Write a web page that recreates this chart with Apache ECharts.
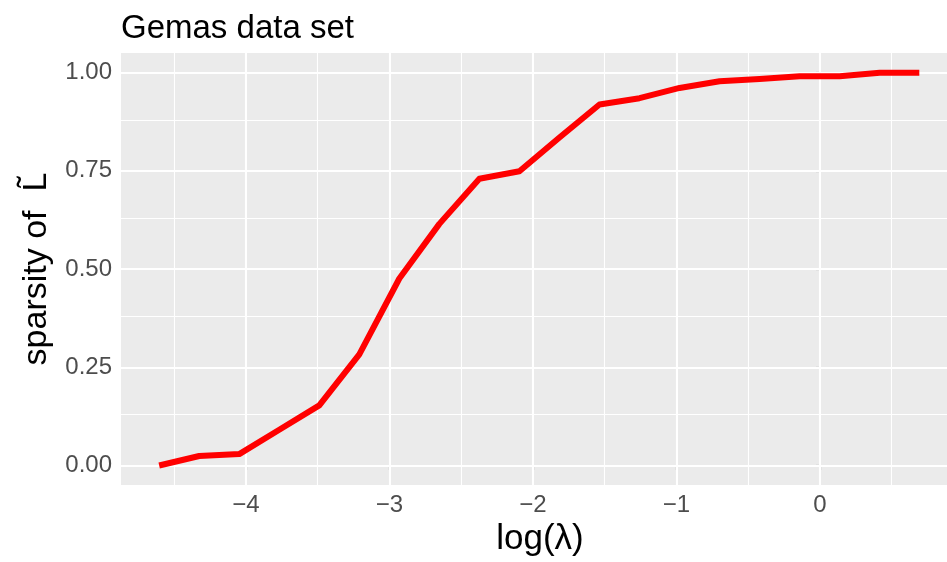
<!DOCTYPE html>
<html>
<head>
<meta charset="utf-8">
<script src="https://cdn.jsdelivr.net/npm/echarts@6/dist/echarts.min.js"></script>
<style>
  html, body { margin: 0; padding: 0; background: #ffffff; overflow: hidden; width: 100%; height: 100%; }
  #chart { width: 100vw; height: 100vh; }
</style>
</head>
<body>
<div id="chart"></div>
<script>
// log(lambda) grid of the regularisation path
const logLambda = [-4.605, -4.326, -4.047, -3.768, -3.489, -3.210, -2.931, -2.652, -2.373, -2.094,
                   -1.815, -1.536, -1.257, -0.978, -0.699, -0.420, -0.141, 0.138, 0.417, 0.693];
// sparsity of the estimated L~ at each lambda
const sparsity = [0.000, 0.024, 0.029, 0.091, 0.153, 0.283, 0.476, 0.615, 0.730, 0.749,
                  0.835, 0.919, 0.935, 0.961, 0.978, 0.984, 0.991, 0.991, 1.000, 1.000];

// axis breaks
const xBreaks = [-4, -3, -2, -1, 0];
const xMinorBreaks = [-4.5, -3.5, -2.5, -1.5, -0.5, 0.5];
const yBreaks = [0, 0.25, 0.5, 0.75, 1];
const yMinorBreaks = [0.125, 0.375, 0.625, 0.875];

const FONT = 'Liberation Sans';
const points = logLambda.map((x, i) => [x, sparsity[i]]);

// vertical layout is laid out for a 562px tall page and scaled to the real height
const el = document.getElementById('chart');
const sy = (el.clientHeight || 562) / 562;

function gridLine(axisKey, v, width) {
  const item = { lineStyle: { color: '#ffffff', width: width, type: 'solid', opacity: 1 } };
  item[axisKey] = v;
  return item;
}

const gridLines = []
  .concat(xMinorBreaks.map(v => gridLine('xAxis', v, 1.1)))
  .concat(yMinorBreaks.map(v => gridLine('yAxis', v, 1.1)))
  .concat(xBreaks.map(v => gridLine('xAxis', v, 2.1)))
  .concat(yBreaks.map(v => gridLine('yAxis', v, 2.1)));

const chart = echarts.init(el, null, { renderer: 'canvas' });

chart.setOption({
  animation: false,
  backgroundColor: '#ffffff',
  title: {
    text: 'Gemas data set',
    left: 116,
    top: 7 * sy,
    textStyle: { fontFamily: FONT, fontSize: 33, fontWeight: 'normal', color: '#000000' }
  },
  grid: {
    left: 121, right: 0, top: 53 * sy, bottom: 72 * sy,
    show: true, backgroundColor: '#EBEBEB', borderWidth: 0,
    containLabel: false
  },
  xAxis: {
    type: 'value',
    min: -4.871, max: 0.886,
    name: 'log(λ)',
    nameLocation: 'middle',
    nameGap: 33 * sy,
    nameTextStyle: { fontFamily: FONT, fontSize: 35, color: '#000000', padding: [0, 0, 0, 12] },
    axisLine: { show: false },
    axisTick: { show: true, length: 4.5, customValues: xBreaks, lineStyle: { color: '#333333', width: 1.1 } },
    axisLabel: {
      customValues: xBreaks,
      margin: 8 * sy,
      fontFamily: FONT, fontSize: 24, color: '#4D4D4D',
      formatter: v => (v < 0 ? '\u2212' : '') + Math.abs(v)
    },
    splitLine: { show: false }
  },
  yAxis: {
    type: 'value',
    min: -0.05, max: 1.05,
    name: 'sparsity of  L\u0303',
    nameLocation: 'middle',
    nameGap: 67,
    nameTextStyle: { fontFamily: FONT, fontSize: 34, color: '#000000' },
    axisLine: { show: false },
    axisTick: { show: true, length: 4.5, customValues: yBreaks, lineStyle: { color: '#333333', width: 1.1 } },
    axisLabel: {
      customValues: yBreaks,
      margin: 9,
      fontFamily: FONT, fontSize: 24, color: '#4D4D4D',
      formatter: v => v.toFixed(2)
    },
    splitLine: { show: false }
  },
  series: [
    {
      // panel grid lines, kept under the curve
      type: 'line',
      z: 1,
      silent: true,
      data: points,
      showSymbol: false,
      lineStyle: { opacity: 0, width: 0 },
      markLine: {
        z: 1,
        silent: true,
        animation: false,
        symbol: ['none', 'none'],
        label: { show: false },
        emphasis: { disabled: true },
        data: gridLines
      }
    },
    {
      type: 'line',
      z: 10,
      data: points,
      showSymbol: false,
      lineStyle: { color: '#FF0000', width: 6, cap: 'butt', join: 'round' }
    }
  ]
});
</script>
</body>
</html>
